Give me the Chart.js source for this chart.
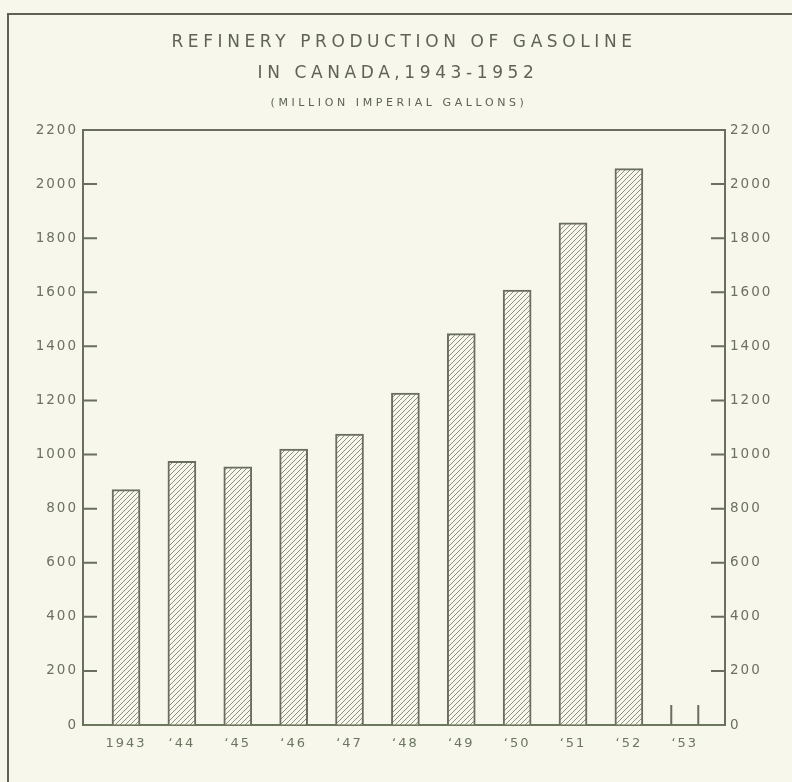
<!DOCTYPE html>
<html lang="en">
<head>
    <meta charset="UTF-8">
    <title>Refinery Production of Gasoline in Canada</title>
    <style>
        body {
            margin: 0;
            padding: 0;
            background-color: #f7f7ec;
            overflow: hidden;
        }
        #chart {
            position: absolute;
            left: 0;
            top: 0;
        }
        .frame {
            position: absolute;
            left: 7px;
            top: 13px;
            width: 820px;
            height: 820px;
            border-top: 2px solid #5e6254;
            border-left: 2px solid #5e6254;
        }
    </style>
    <script src="https://cdn.jsdelivr.net/npm/chart.js"></script>
</head>
<body>
    <div class="frame"></div>
    <canvas id="chart" width="792" height="782"></canvas>
    <script>
        // data (million imperial gallons)
        const years = [1943, 1944, 1945, 1946, 1947, 1948, 1949, 1950, 1951, 1952, 1953];
        const yearLabels = ['1943', '\u201844', '\u201845', '\u201846', '\u201847', '\u201848', '\u201849', '\u201850', '\u201851', '\u201852', '\u201853'];
        const gasoline = [870, 975, 955, 1020, 1076, 1227, 1447, 1608, 1857, 2057];
        const yTicks = [0, 200, 400, 600, 800, 1000, 1200, 1400, 1600, 1800, 2000, 2200];
        const titleLines = ['REFINERY PRODUCTION OF GASOLINE', 'IN CANADA,1943-1952'];
        const subtitle = '(MILLION IMPERIAL GALLONS)';

        const ink = '#6a6e60';
        const textInk = '#6c6f63';
        const font = 'DejaVu Sans';

        function hatch() {
            const c = document.createElement('canvas');
            c.width = 5;
            c.height = 5;
            const g = c.getContext('2d');
            g.fillStyle = '#f7f7ec';
            g.fillRect(0, 0, 5, 5);
            g.strokeStyle = '#8b8e80';
            g.lineWidth = 1;
            g.beginPath();
            g.moveTo(-1, 6); g.lineTo(6, -1);
            g.moveTo(-1, 1); g.lineTo(1, -1);
            g.moveTo(4, 6); g.lineTo(6, 4);
            g.stroke();
            return g.createPattern(c, 'repeat');
        }

        const decor = {
            id: 'decor',
            beforeDraw(chart) {
                chart.ctx.letterSpacing = '2px';
            },
            afterDraw(chart) {
                const ctx = chart.ctx;
                const area = chart.chartArea;
                const y = chart.scales.y;
                const x = chart.scales.x;
                ctx.save();
                ctx.letterSpacing = '0px';
                ctx.strokeStyle = ink;
                ctx.lineWidth = 2;
                ctx.beginPath();
                // top edge of frame
                ctx.moveTo(area.left - 1, area.top);
                ctx.lineTo(area.right + 1, area.top);
                // inward ticks on both value axes
                y.ticks.forEach(t => {
                    if (t.value === 0 || t.value === y.max) return;
                    const py = y.getPixelForValue(t.value);
                    ctx.moveTo(area.left, py);
                    ctx.lineTo(area.left + 14, py);
                    ctx.moveTo(area.right, py);
                    ctx.lineTo(area.right - 14, py);
                });
                // the empty 1953 slot
                const p53 = x.getPixelForValue(1953);
                ctx.moveTo(p53 - 13.5, area.bottom);
                ctx.lineTo(p53 - 13.5, area.bottom - 20);
                ctx.moveTo(p53 + 13.5, area.bottom);
                ctx.lineTo(p53 + 13.5, area.bottom - 20);
                ctx.stroke();

                ctx.fillStyle = '#5f6357';
                ctx.textAlign = 'center';
                ctx.textBaseline = 'middle';
                ctx.font = '17px "' + font + '"';
                ctx.letterSpacing = '4.6px';
                ctx.fillText(titleLines[0], 404, 43);
                ctx.fillText(titleLines[1], 398, 74);
                ctx.font = '11px "' + font + '"';
                ctx.letterSpacing = '3.6px';
                ctx.fillText(subtitle, 399, 103);
                ctx.restore();
                ctx.letterSpacing = '0px';
            }
        };

        const valueAxis = (position, padding, width) => ({
            type: 'linear',
            position: position,
            min: 0,
            max: 2200,
            afterBuildTicks: s => { s.ticks = yTicks.map(v => ({ value: v })); },
            afterFit: s => { s.width = width; },
            grid: { drawOnChartArea: false, drawTicks: false },
            border: { color: ink, width: 2 },
            ticks: {
                padding: padding,
                color: textInk,
                font: { family: font, size: 13.5 },
                callback: v => String(v)
            }
        });

        new Chart(document.getElementById('chart'), {
            type: 'bar',
            data: {
                datasets: [{
                    data: gasoline.map((v, i) => ({ x: years[i], y: v })),
                    backgroundColor: hatch(),
                    borderColor: ink,
                    borderWidth: 2,
                    barThickness: 28
                }]
            },
            options: {
                responsive: false,
                animation: false,
                layout: { padding: { top: 130, left: 0, right: 0, bottom: 0 } },
                plugins: {
                    legend: { display: false },
                    tooltip: { enabled: false }
                },
                scales: {
                    x: {
                        type: 'linear',
                        position: 'bottom',
                        offset: false,
                        min: 1942.23,
                        max: 1953.72,
                        afterBuildTicks: s => { s.ticks = years.map(v => ({ value: v })); },
                        afterFit: s => { s.height = 57; },
                        grid: { display: true, offset: false, drawOnChartArea: false, drawTicks: false },
                        border: { color: '#6d775e', width: 2 },
                        ticks: {
                            padding: 11,
                            autoSkip: false,
                            maxRotation: 0,
                            color: '#6b7661',
                            font: { family: font, size: 13 },
                            callback: (v, i) => yearLabels[i]
                        }
                    },
                    y: valueAxis('left', 5, 83),
                    y2: valueAxis('right', 5, 67)
                }
            },
            plugins: [decor]
        });
    </script>
</body>
</html>
